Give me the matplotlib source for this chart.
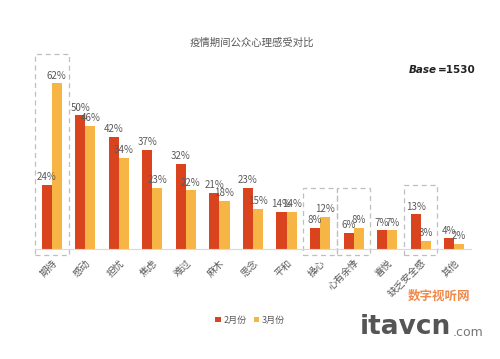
import matplotlib.pyplot as plt
import numpy as np
from matplotlib.patches import Rectangle

plt.rcParams['font.family'] = ['Noto Sans CJK SC', 'DejaVu Sans']

categories = ["期待", "感动", "担忧", "焦虑", "难过", "麻木", "思念", "平和",
              "操心", "心有余悸", "喜悦", "缺乏安全感", "其他"]
feb = [24, 50, 42, 37, 32, 21, 23, 14, 8, 6, 7, 13, 4]
mar = [62, 46, 34, 23, 22, 18, 15, 14, 12, 8, 7, 3, 2]
boxed = {0: 73, 8: 23, 9: 23, 11: 24}

c_feb = "#D9441F"
c_mar = "#F6B545"
txt = "#595959"

fig = plt.figure(figsize=(5, 3.59), dpi=100)
ax = fig.add_axes([0.07, 0.306, 0.872, 0.566])
x = np.arange(len(categories))
w = 0.3
ax.bar(x - w / 2, feb, w, color=c_feb, label="2月份")
ax.bar(x + w / 2, mar, w, color=c_mar, label="3月份")

for i in range(len(categories)):
    ax.annotate(f"{feb[i]}%", (x[i] - w / 2, feb[i]), xytext=(0, 2),
                textcoords="offset points", ha="center", va="bottom",
                fontsize=7, color=txt)
    ax.annotate(f"{mar[i]}%", (x[i] + w / 2, mar[i]), xytext=(0, 2),
                textcoords="offset points", ha="center", va="bottom",
                fontsize=7, color=txt)

for i, top in boxed.items():
    ax.add_patch(Rectangle((i - 0.5, -2.2), 1.0, top + 2.2, fill=False,
                           ls=(0, (4, 3)), lw=0.9, ec="#bfbfbf", clip_on=False))

ax.set_xlim(-0.5, len(categories) - 0.5)
ax.set_ylim(0, 76)
ax.set_xticks(x)
ax.set_xticklabels(categories, rotation=45, ha="right", rotation_mode="anchor",
                   fontsize=7, color=txt)
ax.tick_params(axis="x", length=0, pad=6)
ax.set_yticks([])
for s in ["top", "right", "left"]:
    ax.spines[s].set_visible(False)
ax.spines["bottom"].set_color("#d9d9d9")

fig.text(0.504, 0.882, "疫情期间公众心理感受对比", ha="center", va="center",
         fontsize=7.5, color=txt)
fig.text(0.874, 0.805, "Base", ha="right", va="center", fontsize=7.5,
         fontweight="bold", style="italic", color="#222222", family="DejaVu Sans")
fig.text(0.876, 0.805, "=1530", ha="left", va="center", fontsize=7.5,
         fontweight="bold", color="#222222", family="DejaVu Sans")

fig.legend(loc="center", bbox_to_anchor=(0.5, 0.108), ncol=2, frameon=False,
           fontsize=6.5, handlelength=0.6, handleheight=0.6, columnspacing=0.8,
           handletextpad=0.3, labelcolor=txt)

# watermark
fig.text(0.94, 0.175, "数字视听网", ha="right", va="center", fontsize=9,
         color="#F08A4B", fontweight="bold")
fig.text(0.72, 0.09, "itavcn", ha="left", va="center", fontsize=19,
         color="#555555", fontweight="bold", family="DejaVu Sans")
fig.text(0.905, 0.075, ".com", ha="left", va="center", fontsize=9,
         color="#777777", family="DejaVu Sans")

fig.savefig("out.png", dpi=100, facecolor="white")
